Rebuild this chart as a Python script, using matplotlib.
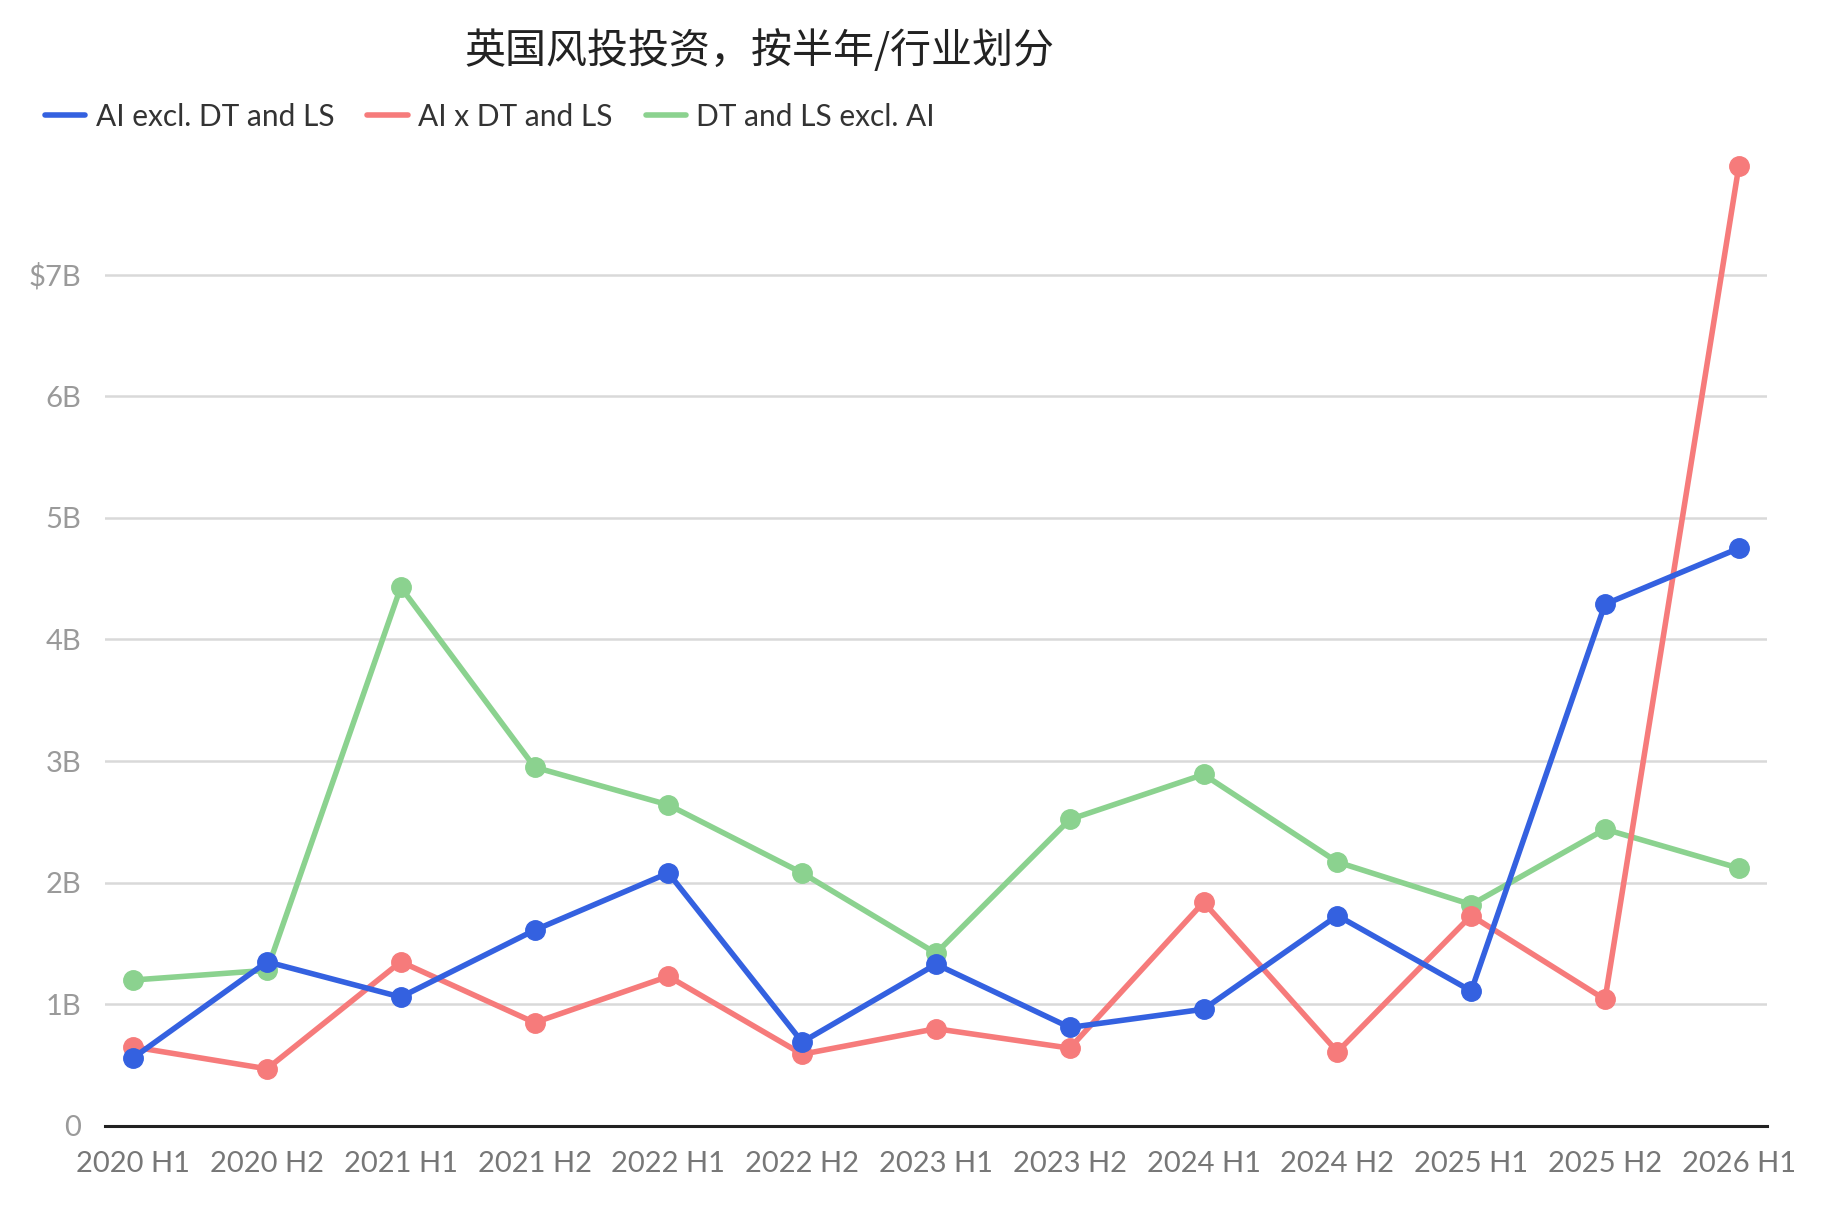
import matplotlib
matplotlib.use("Agg")
import matplotlib.pyplot as plt
from matplotlib.ticker import FixedLocator

plt.rcParams['font.family'] = ['Lato', 'Noto Sans CJK SC', 'DejaVu Sans']

# Data (billions USD)
periods = ["2020 H1", "2020 H2", "2021 H1", "2021 H2", "2022 H1", "2022 H2", "2023 H1",
           "2023 H2", "2024 H1", "2024 H2", "2025 H1", "2025 H2", "2026 H1"]
ai_excl = [0.56, 1.35, 1.06, 1.61, 2.08, 0.69, 1.33, 0.81, 0.96, 1.73, 1.11, 4.29, 4.75]
ai_x_dtls = [0.65, 0.47, 1.35, 0.85, 1.23, 0.59, 0.80, 0.64, 1.84, 0.61, 1.73, 1.04, 7.89]
dtls_excl = [1.20, 1.28, 4.43, 2.95, 2.64, 2.08, 1.42, 2.52, 2.89, 2.17, 1.82, 2.44, 2.12]
y_ticks = [0, 1, 2, 3, 4, 5, 6, 7]
y_labels = ["0", "1B", "2B", "3B", "4B", "5B", "6B", "$7B"]

series = [
    ("AI excl. DT and LS", ai_excl, "#3461e0", 4),
    ("AI x DT and LS", ai_x_dtls, "#f67b7b", 3),
    ("DT and LS excl. AI", dtls_excl, "#8bd28f", 2),
]

fig = plt.figure(figsize=(18.31, 12.14), dpi=100)
ax = fig.add_axes([0.0574, 0.0725, 0.9076, 0.8015])

x = list(range(len(periods)))
for name, vals, color, z in series:
    ax.plot(x, vals, color=color, lw=4, marker='o', markersize=14,
            label=name, zorder=z, solid_capstyle='round')

ax.set_xlim(-0.21, len(periods) - 1 + 0.21)
ax.set_ylim(0, 8.0)
ax.yaxis.set_major_locator(FixedLocator(y_ticks))
ax.set_yticklabels(y_labels)
ax.set_xticks(x)
ax.set_xticklabels(periods)

ax.grid(axis='y', color='#d9d9d9', lw=1.8, zorder=0)
for s in ['top', 'right', 'left']:
    ax.spines[s].set_visible(False)
ax.spines['bottom'].set_color('#222222')
ax.spines['bottom'].set_linewidth(2.2)
ax.tick_params(axis='y', length=0, pad=17, labelsize=21, labelcolor='#9a9a9a')
ax.tick_params(axis='x', length=0, pad=18, labelsize=21, labelcolor='#777777')

fig.text(0.415, 0.958, "英国风投投资，按半年/行业划分", ha='center', va='center',
         fontsize=29.5, family=['Noto Sans CJK SC'], fontweight='light', color='#222222')

handles, labels = ax.get_legend_handles_labels()
leg = fig.legend(handles, labels, loc='center left', bbox_to_anchor=(0.010, 0.904),
                 ncol=3, frameon=False, fontsize=21.5, handlelength=1.35,
                 columnspacing=1.1, handletextpad=0.35)
for h in leg.legend_handles:
    h.set_marker('')
    h.set_linewidth(4)
for t in leg.get_texts():
    t.set_color('#333333')

fig.savefig("out.png", dpi=100, facecolor='white')
